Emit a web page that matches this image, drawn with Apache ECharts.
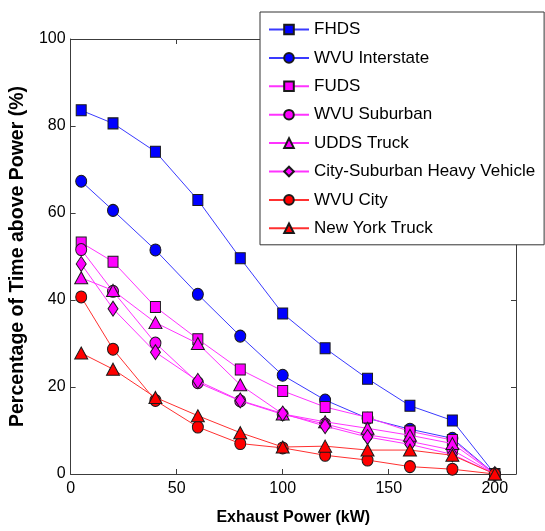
<!DOCTYPE html>
<html>
<head>
<meta charset="utf-8">
<script src="https://cdn.jsdelivr.net/npm/echarts@6/dist/echarts.min.js"></script>
<style>
html,body{margin:0;padding:0;background:#fff;}
#c{width:545px;height:531px;}
</style>
</head>
<body>
<div id="c"></div>
<script>
// Exhaust power (kW)
const powerKW = [5, 20, 40, 60, 80, 100, 120, 140, 160, 180, 200];
// Percentage of time above power (%)
const fhds          = [83.6, 80.6, 74.1, 63.0, 49.6, 36.9, 28.9, 21.9, 15.7, 12.3, 0];
const wvuInterstate = [67.3, 60.6, 51.5, 41.3, 31.7, 22.7, 17.0, 12.8, 10.3, 8.2, 0];
const fuds          = [53.2, 48.8, 38.4, 31.0, 24.0, 19.1, 15.4, 13.0, 9.8, 7.8, 0];
const wvuSuburban   = [51.6, 42.0, 30.1, 21.0, 16.8, 13.7, 11.5, 9.0, 7.5, 5.5, 0];
const uddsTruck     = [45.1, 42.2, 34.8, 30.0, 20.5, 13.8, 12.0, 10.5, 8.9, 7.0, 0];
const citySuburban  = [48.3, 38.0, 28.0, 21.4, 16.9, 13.9, 11.0, 8.5, 6.8, 4.5, 0];
const wvuCity       = [40.7, 28.7, 16.9, 10.8, 7.0, 6.0, 4.3, 3.2, 1.7, 1.1, 0];
const newYorkTruck  = [27.8, 24.1, 17.6, 13.4, 9.5, 6.2, 6.4, 5.5, 5.5, 4.3, 0];

const seriesNames = ['FHDS', 'WVU Interstate', 'FUDS', 'WVU Suburban', 'UDDS Truck',
  'City-Suburban Heavy Vehicle', 'WVU City', 'New York Truck'];
const seriesValues = [fhds, wvuInterstate, fuds, wvuSuburban, uddsTruck, citySuburban, wvuCity, newYorkTruck];
const yTicks = [0, 20, 40, 60, 80, 100];
const xTicks = [0, 50, 100, 150, 200];

const colors = ['#0000ff', '#0000ff', '#ff00ff', '#ff00ff', '#ff00ff', '#ff00ff', '#ff0000', '#ff0000'];
const lineColors = ['#3a3aff', '#3a3aff', '#ff33ff', '#ff33ff', '#ff33ff', '#ff33ff', '#ff3030', '#ff3030'];
const symbols = ['rect', 'circle', 'rect', 'circle', 'triangle', 'diamond', 'circle', 'triangle'];
const sizes = {rect: [10, 11], circle: [11, 12], triangle: [13, 12], diamond: [10, 15]};

const font = 'Liberation Sans, Arial, sans-serif';

const chart = echarts.init(document.getElementById('c'), null, {renderer: 'canvas'});

const series = seriesNames.map((name, i) => ({
  name: name,
  type: 'line',
  xAxisIndex: 0,
  yAxisIndex: 0,
  data: powerKW.map((x, j) => [x, seriesValues[i][j]]),
  symbol: symbols[i],
  symbolSize: sizes[symbols[i]],
  showAllSymbol: true,
  lineStyle: {color: lineColors[i], width: 1},
  itemStyle: {color: colors[i], borderColor: '#1a1a1a', borderWidth: 1},
  emphasis: {disabled: true},
  z: 2 + i * 0.01
}));

const axisLineStyle = {lineStyle: {color: '#3c3c3c', width: 1}};

chart.setOption({
  animation: false,
  backgroundColor: '#ffffff',
  grid: {left: 68, top: 39, right: 29, bottom: 52, containLabel: false},
  legend: {
    orient: 'vertical',
    left: 260,
    top: 12,
    data: seriesNames,
    itemWidth: 40,
    itemHeight: 12,
    itemGap: 11.4,
    padding: [9, 9, 8, 8],
    backgroundColor: '#ffffff',
    borderColor: '#333333',
    borderWidth: 1,
    borderRadius: 0,
    selectedMode: false,
    textStyle: {fontFamily: font, fontSize: 17, color: '#000', padding: [0, 0, 0, 0]},
    z: 10
  },
  xAxis: [{
    type: 'value', min: 0, max: 210, interval: 50, position: 'bottom',
    name: 'Exhaust Power (kW)', nameLocation: 'middle', nameGap: 36,
    nameTextStyle: {fontFamily: font, fontSize: 16, fontWeight: 'bold', color: '#000'},
    axisLine: Object.assign({show: true, onZero: false}, axisLineStyle),
    axisTick: {show: true, inside: true, length: 5, lineStyle: {color: '#3c3c3c'}},
    axisLabel: {fontFamily: font, fontSize: 16, color: '#000', margin: 7,
      formatter: v => xTicks.indexOf(v) >= 0 ? String(v) : ''},
    splitLine: {show: false}
  }, {
    type: 'value', min: 0, max: 210, interval: 50, position: 'top',
    axisLine: Object.assign({show: true, onZero: false}, axisLineStyle),
    axisTick: {show: true, inside: true, length: 5, lineStyle: {color: '#3c3c3c'}},
    axisLabel: {show: false},
    splitLine: {show: false}
  }],
  yAxis: [{
    type: 'value', min: 0, max: 100, interval: 20, position: 'left',
    name: 'Percentage of Time above Power (%)', nameLocation: 'middle', nameGap: 40,
    nameTextStyle: {fontFamily: font, fontSize: 19.5, fontWeight: 'bold', color: '#000'},
    axisLine: Object.assign({show: true, onZero: false}, axisLineStyle),
    axisTick: {show: true, inside: true, length: 5, lineStyle: {color: '#3c3c3c'}},
    axisLabel: {fontFamily: font, fontSize: 16, color: '#000', margin: 5,
      formatter: v => yTicks.indexOf(v) >= 0 ? String(v) : ''},
    splitLine: {show: false}
  }, {
    type: 'value', min: 0, max: 100, interval: 20, position: 'right',
    axisLine: Object.assign({show: true, onZero: false}, axisLineStyle),
    axisTick: {show: true, inside: true, length: 5, lineStyle: {color: '#3c3c3c'}},
    axisLabel: {show: false},
    splitLine: {show: false}
  }],
  series: series
});
</script>
</body>
</html>
